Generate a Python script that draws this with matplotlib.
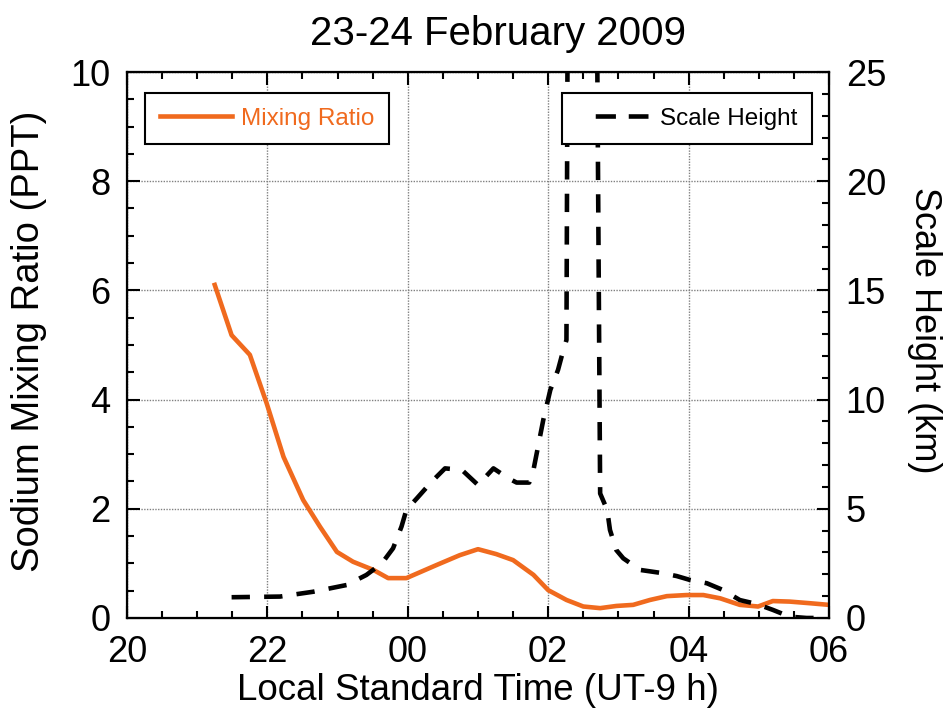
import numpy as np
import matplotlib.pyplot as plt
from matplotlib.lines import Line2D
from matplotlib.ticker import MultipleLocator

plt.rcParams['font.family'] = ['Liberation Sans', 'DejaVu Sans']

# Sodium mixing ratio (left axis), hours since 20:00 LST on 23 Feb
mr_time = [21.25, 21.49, 21.75, 21.99, 22.23, 22.51, 22.75, 22.99, 23.22, 23.51,
           23.72, 23.98, 24.41, 24.74, 25.0, 25.26, 25.5, 25.79, 26.0, 26.26,
           26.5, 26.74, 26.97, 27.21, 27.45, 27.69, 27.97, 28.21, 28.45, 28.73,
           28.99, 29.2, 29.44, 29.73, 30.0]
mr_val = [6.1, 5.18, 4.82, 3.93, 2.95, 2.16, 1.67, 1.21, 1.03, 0.88,
          0.73, 0.73, 0.97, 1.15, 1.26, 1.17, 1.06, 0.79, 0.51, 0.33,
          0.21, 0.18, 0.22, 0.24, 0.33, 0.40, 0.42, 0.42, 0.36, 0.24,
          0.21, 0.31, 0.30, 0.27, 0.24]

# Scale height (right axis, km); the spike runs off the top of the plot
sh_time = [21.49, 22.18, 22.65, 23.13, 23.41, 23.63, 23.79, 23.91, 23.98, 24.13,
           24.34, 24.53, 24.77, 25.0, 25.22, 25.43, 25.55, 25.73, 25.79, 25.93,
           26.03, 26.14, 26.19, 26.26, 26.28, 26.69, 26.74, 26.84, 26.88, 26.97,
           27.07, 27.31, 27.59, 27.83, 28.02, 28.26, 28.49, 28.73, 28.97, 29.2,
           29.44, 29.68, 29.92]
sh_val = [0.95, 0.98, 1.2, 1.51, 1.97, 2.5, 3.19, 4.18, 4.95, 5.48,
          6.24, 6.85, 6.78, 6.09, 6.85, 6.4, 6.2, 6.2, 6.78, 9.07,
          10.44, 11.36, 11.96, 12.73, 30.0, 30.0, 5.7, 4.95, 4.03, 3.11,
          2.73, 2.2, 2.07, 1.92, 1.74, 1.59, 1.28, 0.82, 0.64, 0.37,
          0.06, 0.0, 0.0]

x_ticks = [20, 22, 24, 26, 28, 30]
x_tick_labels = ['20', '22', '00', '02', '04', '06']

orange = '#f06a1e'
fs = 26

fig = plt.figure(figsize=(9.47, 7.15), dpi=100)
ax = fig.add_axes([0.1341, 0.1357, 0.7413, 0.7636])
ax2 = ax.twinx()

# mixing ratio
ax.plot(mr_time, mr_val, color=orange, lw=3.3, solid_joinstyle='round')
ax.set_xlim(20, 30)
ax.set_ylim(0, 10)
ax.set_xticks(x_ticks)
ax.set_xticklabels(x_tick_labels)
ax.xaxis.set_minor_locator(MultipleLocator(0.5))
ax.set_yticks([0, 2, 4, 6, 8, 10])
ax.yaxis.set_minor_locator(MultipleLocator(0.5))
ax.tick_params(which='both', direction='in', top=True, right=False, width=1.5,
               labelsize=fs)
ax.tick_params(which='major', length=9)
ax.tick_params(which='minor', length=5)
ax.tick_params(axis='y', pad=12)
ax.tick_params(axis='x', pad=12)
ax.grid(True, which='major', color='#808080', linestyle=(0, (1, 1)), lw=1)
for s in ax.spines.values():
    s.set_linewidth(1.6)

# scale height
ax2.plot(sh_time, sh_val, color='black', lw=3.3, linestyle=(0, (4.0, 3.1)))
ax2.set_ylim(0, 25)
ax2.set_yticks([0, 5, 10, 15, 20, 25])
ax2.yaxis.set_minor_locator(MultipleLocator(1))
ax2.tick_params(which='both', direction='in', width=1.5, labelsize=fs, pad=12)
ax2.tick_params(which='major', length=9)
ax2.tick_params(which='minor', length=5)

# legends
leg1 = ax.legend([Line2D([], [], color=orange, lw=3.3)], ['Mixing Ratio'],
                 loc='upper left', bbox_to_anchor=(0.0256, 0.9615), borderaxespad=0,
                 fontsize=17.5, handlelength=3.0, handletextpad=0.35, borderpad=0.6,
                 fancybox=False, framealpha=1, edgecolor='black')
leg1.get_frame().set_linewidth(1.5)
for t in leg1.get_texts():
    t.set_color(orange)

sh_handle = Line2D([], [], color='black', lw=3.3,
                   linestyle=(0, (0, 4.2, 4.4, 2.8, 4.4, 10)))
leg2 = ax2.legend([sh_handle], ['Scale Height'],
                  loc='upper right', bbox_to_anchor=(0.9758, 0.9615), borderaxespad=0,
                  fontsize=17.5, handlelength=2.95, handletextpad=0.5, borderpad=0.6,
                  fancybox=False, framealpha=1, edgecolor='black')
leg2.get_frame().set_linewidth(1.5)

# titles and axis labels
fig.text(0.526, 0.937, '23-24 February 2009', fontsize=29, ha='center', va='baseline')
fig.text(0.505, 0.021, 'Local Standard Time (UT-9 h)', fontsize=26.5, ha='center',
         va='baseline')
fig.text(0.031, 0.522, 'Sodium Mixing Ratio (PPT)', fontsize=27.5, rotation=90,
         ha='center', va='center')
fig.text(0.976, 0.538, 'Scale Height (km)', fontsize=fs, rotation=270,
         ha='center', va='center')

fig.savefig('out.png', dpi=100)
